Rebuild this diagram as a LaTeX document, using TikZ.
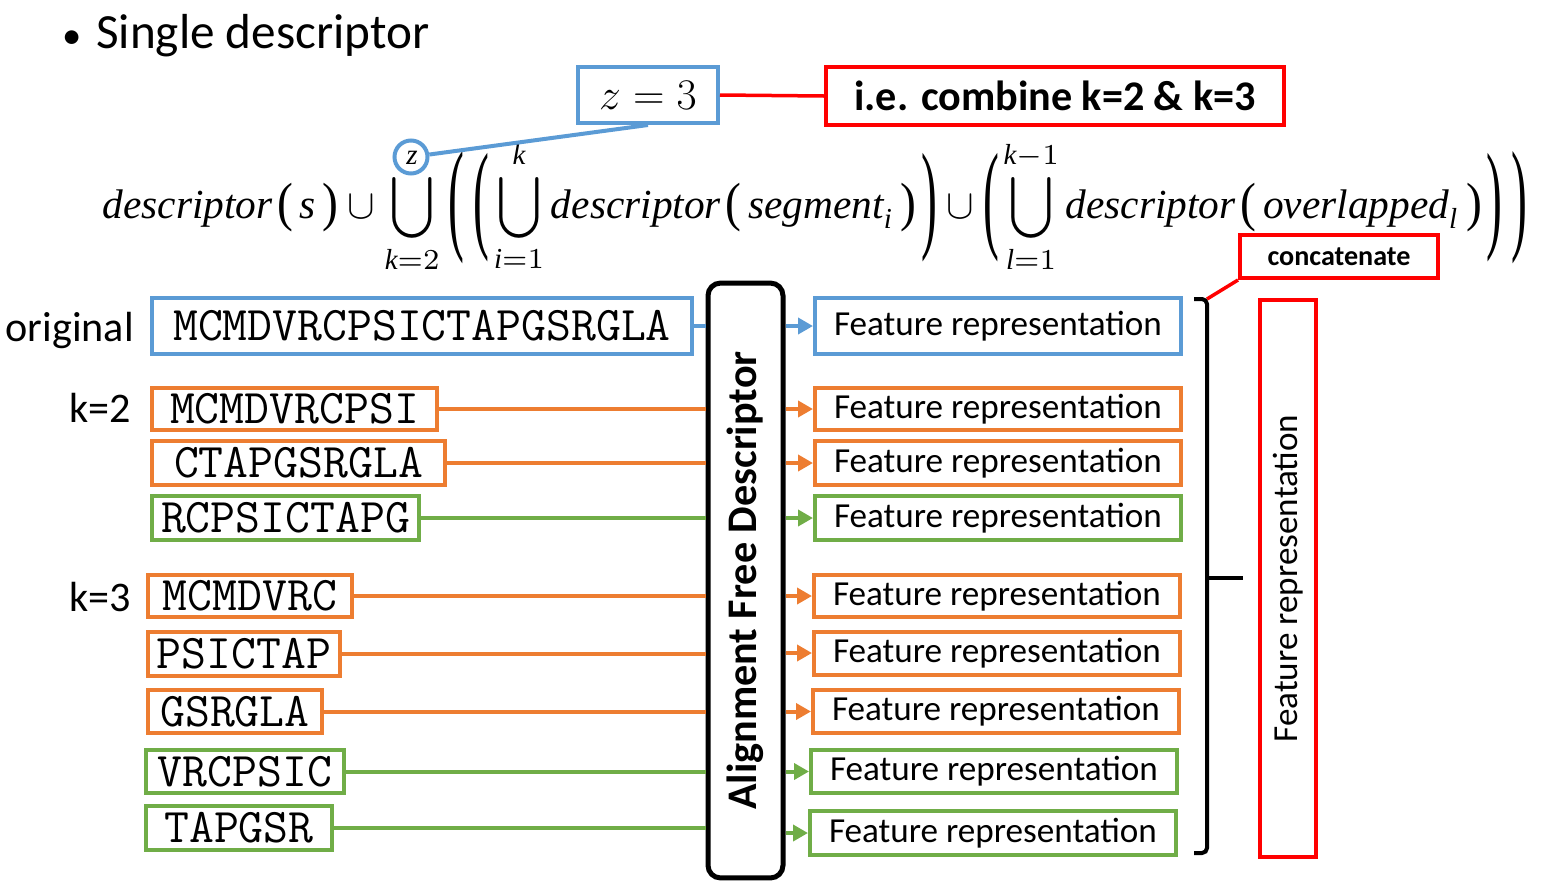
\documentclass[tikz,border=0pt]{standalone}
\usepackage{graphicx}
\usepackage{amsmath}
\usepackage{fontspec}
\setmainfont{Carlito}
\newfontfamily\tms{Liberation Serif}
\usetikzlibrary{arrows.meta}

\definecolor{cblue}{HTML}{5B9BD5}
\definecolor{corange}{HTML}{ED7D31}
\definecolor{cgreen}{HTML}{70AD47}
\definecolor{cred}{HTML}{FF0000}

\newcommand{\bigU}{\mathop{\vcenter{\hbox{\scalebox{0.95}[1.05]{$\displaystyle\bigcup$}}}}\limits}
\newcommand{\ti}[1]{\text{\tms\itshape #1}}
\newcommand{\lp}[1]{\mathopen{\vcenter{\hbox{\scalebox{1.15}[#1]{\tms(}}}}}
\newcommand{\rp}[1]{\mathclose{\vcenter{\hbox{\scalebox{1.15}[#1]{\tms)}}}}}

\tikzset{
    seqbox/.style={draw=#1, line width=0.08cm, anchor=west, inner sep=0pt,
        font=\ttfamily\fontsize{27.5}{30}\selectfont},
    featbox/.style={draw=#1, line width=0.08cm, anchor=west, inner sep=0pt,
        minimum width=7.32cm, font=\fontsize{20}{24}\selectfont},
    lbl/.style={anchor=east, font=\fontsize{24}{28}\selectfont},
    feedline/.style={#1, line width=0.08cm},
    feedarrow/.style={#1, line width=0.08cm, -{Triangle[length=0.3cm,width=0.32cm]}}
}

\begin{document}
\begin{tikzpicture}[x=0.02cm, y=-0.02cm]

    \useasboundingbox (0,0) rectangle (1541,886);

    % heading and formula
    \node[anchor=west, font=\fontsize{28}{32}\selectfont] (title) at (56,36) {{\fontsize{22}{22}\selectfont\textbullet}\hspace{0.3em}Single descriptor};

    \node (formula) at (815,207) {\resizebox{28.5cm}{!}{$\displaystyle
        \ti{descriptor}\mkern2mu\lp{1.3}\mkern3mu\ti{s}\mkern3mu\rp{1.3}\cup\bigU_{\ti{k}=2}^{\ti{z}}\mkern4mu\lp{3}\mkern4mu\lp{2.9}\mkern2mu\bigU_{\ti{i}=1}^{\ti{k}}\ti{descriptor}\mkern2mu\lp{1.3}\mkern3mu\ti{segment}_{\ti{i}}\mkern3mu\rp{1.3}\mkern2mu\rp{2.9}\cup\lp{2.9}\mkern2mu\bigU_{\ti{l}=1}^{\ti{k}-1}\ti{descriptor}\mkern2mu\lp{1.3}\mkern3mu\ti{overlapped}_{\ti{l}}\mkern3mu\rp{1.3}\mkern2mu\rp{2.9}\mkern4mu\rp{3}$}};

    \node[draw=cblue, line width=0.08cm, minimum width=2.8cm, minimum height=1.12cm,
        font=\fontsize{27}{30}\selectfont] (zbox) at (648,95) {$z = 3$};
    \node[draw=cred, line width=0.08cm, minimum width=9.16cm, minimum height=1.18cm,
        font=\bfseries\fontsize{24}{28}\selectfont] (iebox) at (1055,96) {i.e. combine k=2 \& k=3};
    \node[circle, draw=cblue, line width=0.08cm, minimum size=0.66cm] (zcirc) at (411,157) {};

    \draw[cred, line width=0.07cm] (zbox.east) -- (iebox.west);
    \draw[cblue, line width=0.08cm] (zcirc) -- (zbox.south);

    % sequences
    \node[lbl] (orig) at (140,330) {original};
    \node[lbl] (ktwo) at (137,408) {k=2};
    \node[lbl] (kthree) at (137,597) {k=3};

    \node[seqbox=cblue, minimum width=10.8cm, minimum height=1.12cm] (sorig) at (150,326) {MCMDVRCPSICTAPGSRGLA};
    \node[seqbox=corange, minimum width=5.7cm, minimum height=0.84cm] (s2a) at (150,409) {MCMDVRCPSI};
    \node[seqbox=corange, minimum width=5.86cm, minimum height=0.88cm] (s2b) at (150,463) {CTAPGSRGLA};
    \node[seqbox=cgreen, minimum width=5.34cm, minimum height=0.88cm] (s2c) at (150,518) {RCPSICTAPG};
    \node[seqbox=corange, minimum width=4.08cm, minimum height=0.84cm] (s3a) at (146,596) {MCMDVRC};
    \node[seqbox=corange, minimum width=3.84cm, minimum height=0.88cm] (s3b) at (146,654) {PSICTAP};
    \node[seqbox=corange, minimum width=3.48cm, minimum height=0.86cm] (s3c) at (146,711.5) {GSRGLA};
    \node[seqbox=cgreen, minimum width=3.96cm, minimum height=0.86cm] (s3d) at (144,771.5) {VRCPSIC};
    \node[seqbox=cgreen, minimum width=3.72cm, minimum height=0.88cm] (s3e) at (144,828) {TAPGSR};

    % descriptor
    \node[draw, line width=0.1cm, rounded corners=0.25cm, minimum width=1.5cm, minimum height=11.9cm] (afd) at (745.5,580.5) {};
    \node[rotate=90, font=\bfseries\fontsize{24}{28}\selectfont] (afdtext) at (afd) {Alignment Free Descriptor};

    % feature representations
    \node[featbox=cblue, minimum height=1.12cm] (forig) at (813,326) {Feature representation};
    \node[featbox=corange, minimum height=0.84cm] (f2a) at (813,409) {Feature representation};
    \node[featbox=corange, minimum height=0.88cm] (f2b) at (813,463) {Feature representation};
    \node[featbox=cgreen, minimum height=0.88cm] (f2c) at (813,518) {Feature representation};
    \node[featbox=corange, minimum height=0.84cm] (f3a) at (812,596) {Feature representation};
    \node[featbox=corange, minimum height=0.86cm] (f3b) at (812,653) {Feature representation};
    \node[featbox=corange, minimum height=0.86cm] (f3c) at (811,711.5) {Feature representation};
    \node[featbox=cgreen, minimum height=0.86cm] (f3d) at (809,771.5) {Feature representation};
    \node[featbox=cgreen, minimum height=0.88cm] (f3e) at (808,833) {Feature representation};

    \foreach \s/\f/\c in {sorig/forig/cblue, s2a/f2a/corange, s2b/f2b/corange, s2c/f2c/cgreen,
        s3a/f3a/corange, s3b/f3b/corange, s3c/f3c/corange, s3d/f3d/cgreen, s3e/f3e/cgreen}
    {
        \draw[feedline=\c] (\s.east) -- (\s.east -| afd.west);
        \draw[feedarrow=\c] (\f.west -| afd.east) -- (\f.west);
    }

    % brace and concatenation
    \coordinate (brtop) at (1207,299);
    \draw[line width=0.08cm, rounded corners=0.1cm] (1194,299) -- (brtop) -- (1207,853) -- (1194,853);
    \draw[line width=0.08cm] (1207,578) -- (1243,578);

    \node[draw=cred, line width=0.08cm, minimum width=3.96cm, minimum height=0.86cm,
        font=\bfseries\fontsize{16}{19}\selectfont] (concat) at (1339,256.5) {concatenate};
    \draw[cred, line width=0.07cm] (concat.south west) -- (brtop);

    \node[draw=cred, line width=0.08cm, minimum width=1.12cm, minimum height=11.14cm] (frbig) at (1288,578.5) {};
    \node[rotate=90, font=\fontsize{20}{24}\selectfont] (frtext) at (frbig) {Feature representation};

\end{tikzpicture}
\end{document}
